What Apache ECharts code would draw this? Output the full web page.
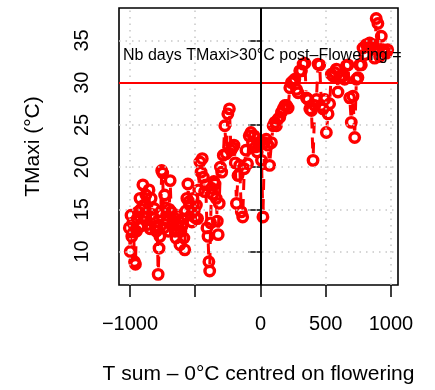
<!DOCTYPE html>
<html><head><meta charset="utf-8">
<script src="https://cdn.jsdelivr.net/npm/echarts@6/dist/echarts.min.js"></script>
<style>html,body{margin:0;padding:0;background:#fff}#c{width:435px;height:390px}</style>
</head><body><div id="c"></div>
<script>
const tsum = [-1005,-998,-992,-986,-979,-972,-965,-958,-951,-944,-937,-930,-923,-916,-909,-901,-893,-886,-878,-870,-862,-854,-846,-838,-830,-822,-814,-806,-798,-791,-784,-777,-771,-764,-757,-749,-741,-734,-727,-720,-713,-706,-699,-692,-684,-677,-670,-662,-655,-647,-640,-632,-625,-617,-610,-602,-595,-587,-580,-572,-564,-556,-548,-541,-533,-525,-517,-508,-500,-491,-482,-473,-464,-455,-446,-437,-428,-419,-410,-402,-395,-389,-382,-375,-366,-357,-348,-339,-331,-324,-316,-307,-297,-285,-273,-262,-250,-238,-226,-214,-203,-193,-184,-172,-159,-147,-136,-124,-111,-99,-86,-73,-61,-49,-37,-25,-13,-2,8,19,31,44,57,70,84,97,110,122,135,148,161,174,187,200,212,225,237,250,263,276,288,301,314,327,340,352,365,378,391,403,416,429,441,454,467,480,492,505,518,530,543,556,569,582,594,607,620,633,645,658,671,684,696,709,722,735,747,760,773,786,799,811,824,837,850,862,875,887,900,913,926,939,952,964,975];
const tmaxi = [12.8,10.0,14.3,11.8,13.4,12.3,8.8,8.5,12.4,13.9,14.7,12.9,16.3,15.0,13.1,17.9,15.5,14.0,16.7,14.6,13.2,17.3,12.7,16.3,14.4,13.9,15.1,13.0,12.4,12.8,7.3,10.4,11.8,14.7,19.6,19.3,12.8,16.7,15.2,14.3,13.6,12.4,15.0,18.4,14.7,13.1,13.5,14.0,12.4,11.6,14.3,13.1,13.6,10.8,12.4,13.0,13.9,11.6,10.2,14.8,16.3,18.0,15.9,15.5,14.3,13.5,16.3,14.8,14.0,15.5,13.9,17.3,20.6,19.4,21.0,18.8,17.1,17.9,12.8,11.8,8.8,7.7,13.4,17.5,16.8,18.3,18.0,16.3,13.6,12.0,15.7,20.0,19.4,21.4,24.9,21.6,26.3,26.9,22.0,22.3,22.6,20.5,15.7,19.0,20.2,14.7,14.1,19.8,22.0,20.4,23.7,24.1,22.9,23.7,22.4,21.8,22.6,23.0,20.8,14.1,22.9,23.3,22.6,20.2,22.9,24.9,25.3,24.9,25.7,25.9,26.5,26.9,27.3,27.3,27.0,29.4,30.0,30.2,30.4,29.2,28.8,31.4,31.4,32.2,32.3,28.2,28.0,26.9,26.7,20.8,27.3,28.0,32.2,32.1,27.3,26.9,28.0,24.1,26.3,27.5,31.0,30.8,31.2,31.6,28.9,30.6,30.8,30.8,30.4,32.0,32.1,28.2,25.3,28.4,23.5,30.4,30.6,32.1,32.1,34.1,33.3,34.5,34.3,34.7,34.3,34.5,32.9,37.6,37.0,33.1,35.5,33.9,33.7,33.5,33.9];
const xTicks = [-1000, -500, 0, 500, 1000];
const xTickLabels = [-1000, 0, 500, 1000];
const yTicks = [10, 15, 20, 25, 30, 35];
const threshold = 30;
const xTitle = 'T sum \u2013 0°C centred on flowering';
const yTitle = 'TMaxi (°C)';
const annotation = 'Nb days TMaxi>30°C post\u2013Flowering =';

const FONT = '"Liberation Sans", Arial, Helvetica, sans-serif';
const RED = '#ff0000';
const pts = tsum.map((x, i) => [x, tmaxi[i]]);

const chart = echarts.init(document.getElementById('c'), null, {renderer: 'canvas'});
chart.setOption({
  animation: false,
  backgroundColor: '#fff',
  grid: {left: 119, top: 8, width: 279, height: 279, show: true, borderColor: '#000', borderWidth: 1.6, backgroundColor: 'transparent'},
  xAxis: {
    type: 'value', min: -1084, max: 1054,
    axisLine: {show: false},
    splitLine: {show: false},
    axisTick: {show: true, customValues: xTicks, length: 12, lineStyle: {color: '#000', width: 1.5}},
    axisLabel: {customValues: xTickLabels, fontSize: 20, fontFamily: FONT, color: '#000', margin: 29,
      formatter: v => v < 0 ? '\u2212' + Math.abs(v) : String(v)},
    name: xTitle, nameLocation: 'middle', nameGap: 79,
    nameTextStyle: {fontSize: 21, fontFamily: FONT, color: '#000'}
  },
  yAxis: {
    type: 'value', min: 6.04, max: 38.84,
    axisLine: {show: false},
    splitLine: {show: false},
    axisTick: {show: true, customValues: yTicks, length: 12, lineStyle: {color: '#000', width: 1.5}},
    axisLabel: {customValues: yTicks, fontSize: 20, fontFamily: FONT, color: '#000', margin: 27, rotate: 90},
    name: yTitle, nameLocation: 'middle', nameGap: 75,
    nameTextStyle: {fontSize: 21, fontFamily: FONT, color: '#000'}
  },
  graphic: [{
    type: 'text', left: 123, top: 48, z: 10,
    style: {text: annotation, fontSize: 16, fontFamily: FONT, fill: '#000', width: 280, overflow: 'truncate', ellipsis: ''}
  }],
  series: [
    {
      type: 'line', data: [], z: 1, silent: true,
      markLine: {
        silent: true, symbol: 'none', label: {show: false},
        lineStyle: {color: '#c8c8c8', width: 1.5, type: [1.5, 5]},
        data: xTicks.map(v => ({xAxis: v})).concat(yTicks.map(v => ({yAxis: v})))
      }
    },
    {
      type: 'line', data: [], z: 2, silent: true,
      markLine: {
        silent: true, symbol: 'none', label: {show: false},
        data: [
          {yAxis: threshold, lineStyle: {color: RED, width: 2, type: 'solid'}},
          {xAxis: 0, lineStyle: {color: '#000', width: 2, type: 'solid'}}
        ]
      }
    },
    {
      type: 'custom', z: 3, silent: true, clip: true,
      data: pts,
      encode: {x: 0, y: 1},
      renderItem: function (params, api) {
        const i = params.dataIndex;
        if (i >= pts.length - 1) return null;
        const p1 = api.coord([tsum[i], tmaxi[i]]);
        const p2 = api.coord([tsum[i + 1], tmaxi[i + 1]]);
        const dx = p2[0] - p1[0], dy = p2[1] - p1[1];
        const len = Math.sqrt(dx * dx + dy * dy);
        const gap = 7;
        if (len <= 2 * gap) return null;
        const ux = dx / len, uy = dy / len;
        return {
          type: 'line',
          shape: {x1: p1[0] + ux * gap, y1: p1[1] + uy * gap, x2: p2[0] - ux * gap, y2: p2[1] - uy * gap},
          style: {stroke: RED, lineWidth: 3, lineDash: [11, 9], fill: null}
        };
      }
    },
    {
      type: 'scatter', z: 4, silent: true,
      data: pts,
      symbol: 'circle', symbolSize: 9.5,
      itemStyle: {color: 'rgba(0,0,0,0)', borderColor: RED, borderWidth: 3.4, opacity: 1}
    }
  ]
});
</script></body></html>
